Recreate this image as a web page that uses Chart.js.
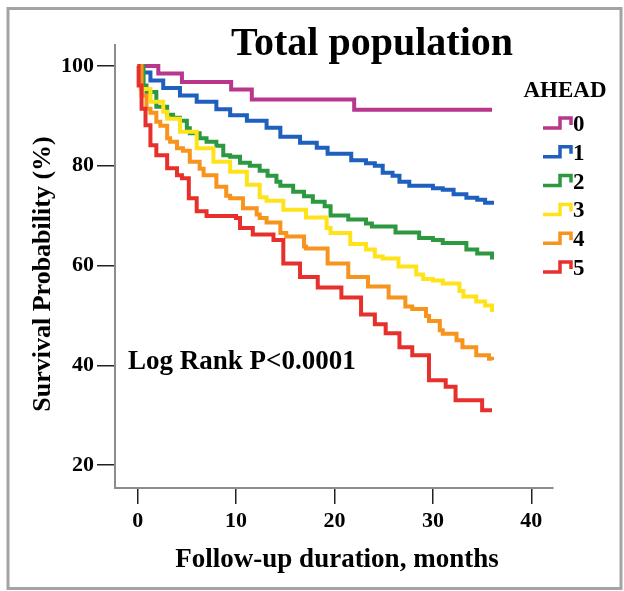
<!DOCTYPE html>
<html>
<head>
<meta charset="utf-8">
<script src="https://cdn.jsdelivr.net/npm/chart.js@4.4.0/dist/chart.umd.min.js"></script>
<style>
  html, body { margin: 0; padding: 0; background: #fff; }
</style>
</head>
<body>
<canvas id="km" width="624" height="591"></canvas>
<script>
// Kaplan-Meier curves by AHEAD score (months, survival %)
var groups = ['0', '1', '2', '3', '4', '5'];
var colors = ['#B8378D', '#1F5FBD', '#2C983F', '#FFE31A', '#F7941E', '#E7302B'];

var months0 = [0, 2.1, 4.5, 9.5, 11.6, 22.0, 36.0];
var surv0   = [100, 98.5, 96.8, 95.3, 93.3, 91.2, 91.2];

var months1 = [0, 0.3, 1.3, 2.6, 4.3, 6.0, 8.0, 9.4, 11.1, 13.1, 14.5, 16.5, 18.2, 19.3, 21.7, 23.2, 24.1, 24.9, 25.9, 26.6, 27.6, 30.0, 31.0, 32.1, 33.4, 34.5, 35.3, 36.0];
var surv1   = [100, 98.7, 97.1, 95.6, 94.1, 92.8, 91.3, 90.1, 89.0, 87.6, 85.8, 84.6, 83.6, 82.4, 81.1, 80.5, 80.0, 78.6, 78.0, 76.8, 76.0, 75.5, 75.2, 74.3, 73.6, 73.2, 72.6, 72.2];

var months2 = [0, 0.6, 0.9, 1.9, 3.0, 3.6, 4.3, 5.0, 5.3, 6.3, 7.0, 8.0, 8.7, 9.4, 10.4, 11.4, 12.4, 13.2, 14.1, 14.5, 15.8, 16.9, 17.8, 19.0, 19.6, 21.4, 23.2, 23.8, 26.2, 28.6, 30.0, 31.0, 33.4, 34.5, 36.0];
var surv2   = [100, 96.1, 94.8, 91.8, 90.2, 89.6, 89.0, 87.5, 86.5, 85.5, 84.8, 84.0, 82.1, 81.8, 80.6, 80.0, 79.0, 78.0, 76.8, 76.0, 74.8, 73.9, 72.8, 71.9, 70.0, 69.2, 68.4, 67.8, 66.6, 65.5, 65.1, 64.5, 63.2, 62.4, 61.2];

var months3 = [0, 0.3, 1.3, 2.6, 3.0, 4.3, 6.0, 7.7, 9.4, 11.1, 12.4, 13.1, 14.8, 17.1, 19.2, 19.6, 21.6, 23.2, 24.1, 24.9, 26.5, 28.3, 29.0, 30.0, 31.0, 32.7, 33.1, 34.4, 35.3, 36.0];
var surv3   = [100, 95.4, 92.8, 90.8, 89.4, 86.8, 83.5, 80.8, 78.8, 76.2, 73.7, 73.0, 71.2, 69.6, 67.5, 66.5, 64.3, 63.2, 61.8, 61.4, 59.8, 58.2, 57.3, 57.0, 56.4, 54.9, 53.8, 52.8, 52.0, 50.7];

var months4 = [0, 0.4, 0.9, 1.3, 1.9, 2.3, 3.0, 3.3, 4.0, 4.6, 5.3, 6.3, 6.7, 8.0, 9.0, 9.4, 10.7, 12.1, 12.4, 13.1, 14.5, 15.1, 16.9, 17.1, 19.3, 21.4, 23.4, 25.5, 27.2, 27.9, 29.3, 29.6, 30.7, 31.0, 32.4, 33.0, 34.4, 35.7, 36.0];
var surv4   = [100, 94.1, 91.4, 90.6, 88.8, 88.0, 85.5, 84.8, 83.5, 83.0, 80.8, 79.4, 78.1, 75.8, 74.0, 73.5, 71.5, 70.2, 69.5, 68.6, 66.5, 65.8, 63.8, 63.4, 60.4, 57.7, 55.8, 53.6, 51.8, 51.3, 49.9, 48.9, 47.0, 46.3, 45.0, 43.6, 42.0, 41.3, 41.0];

var months5 = [0, 0.1, 0.4, 0.8, 1.3, 1.9, 3.0, 4.0, 4.5, 5.2, 6.0, 7.0, 10.0, 10.4, 11.7, 13.8, 14.8, 16.5, 18.3, 20.7, 22.7, 24.1, 25.2, 26.6, 27.9, 29.6, 31.3, 32.3, 35.0, 36.0];
var surv5   = [100, 96.1, 91.4, 88.1, 84.1, 82.1, 79.5, 78.1, 77.5, 73.5, 70.9, 69.9, 69.5, 67.5, 66.2, 65.1, 60.4, 57.7, 55.6, 53.6, 50.2, 48.2, 46.4, 43.6, 42.0, 37.0, 35.7, 33.0, 31.0, 31.0];

var xTicks = [0, 10, 20, 30, 40];
var yTicks = [20, 40, 60, 80, 100];

var titleText = 'Total population';
var xTitle = 'Follow-up duration, months';
var yTitle = 'Survival Probability (%)';
var noteText = 'Log Rank P<0.0001';
var legendTitle = 'AHEAD';

var allMonths = [months0, months1, months2, months3, months4, months5];
var allSurv = [surv0, surv1, surv2, surv3, surv4, surv5];

var FONT = '"Liberation Serif", "Times New Roman", serif';
Chart.defaults.font.family = FONT;

function boldText(ctx, s, x, y, size, align, sx) {
  ctx.save();
  ctx.font = 'bold ' + size + 'px ' + FONT;
  ctx.textAlign = align;
  ctx.textBaseline = 'alphabetic';
  ctx.fillStyle = '#000';
  ctx.translate(x, y);
  ctx.scale(sx || 1, 1);
  ctx.fillText(s, 0, 0);
  ctx.restore();
}

// frame, title, legend and the text around the plot
var decor = {
  id: 'decor',
  beforeDraw: function(chart) {
    var ctx = chart.ctx;
    ctx.save();
    ctx.fillStyle = '#fff';
    ctx.fillRect(0, 0, chart.width, chart.height);
    ctx.restore();
  },
  afterDraw: function(chart) {
    var ctx = chart.ctx;
    ctx.save();
    ctx.strokeStyle = '#a3a3a3';
    ctx.lineWidth = 3;
    ctx.strokeRect(8, 8.5, 613, 580);
    ctx.restore();

    boldText(ctx, titleText, 372, 55, 40, 'center');
    boldText(ctx, noteText, 128, 369, 27, 'left');
    boldText(ctx, xTitle, 337, 567, 27, 'center');

    ctx.save();
    ctx.translate(50, 274);
    ctx.rotate(-Math.PI / 2);
    boldText(ctx, yTitle, 0, 0, 26, 'center');
    ctx.restore();

    boldText(ctx, legendTitle, 565, 97, 23, 'center');
    for (var i = 0; i < groups.length; i++) {
      var cy = 123 + i * 28.8;
      ctx.save();
      ctx.strokeStyle = colors[i];
      ctx.lineWidth = 3.5;
      ctx.lineJoin = 'miter';
      ctx.beginPath();
      ctx.moveTo(543, cy + 5);
      ctx.lineTo(560, cy + 5);
      ctx.lineTo(560, cy - 5);
      ctx.lineTo(571, cy - 5);
      ctx.lineTo(571, cy + 2);
      ctx.stroke();
      ctx.restore();
      boldText(ctx, groups[i], 573, cy + 8, 23, 'left');
    }
  }
};

var datasets = groups.map(function(g, i) {
  return {
    label: g,
    data: allMonths[i].map(function(m, j) { return { x: m, y: allSurv[i][j] }; }),
    borderColor: colors[i],
    borderWidth: 4,
    stepped: 'before',
    pointRadius: 0,
    fill: false,
    order: groups.length - i
  };
});

new Chart(document.getElementById('km'), {
  type: 'line',
  data: { datasets: datasets },
  options: {
    responsive: false,
    animation: false,
    devicePixelRatio: 1,
    layout: { padding: { top: 45, right: 71, bottom: 0, left: 0 } },
    plugins: {
      legend: { display: false },
      title: { display: false },
      tooltip: { enabled: false }
    },
    scales: {
      x: {
        type: 'linear',
        min: -2.3,
        max: 42.2,
        afterBuildTicks: function(s) { s.ticks = xTicks.map(function(v) { return { value: v }; }); },
        afterFit: function(s) { s.height = 103; },
        ticks: { color: '#000', font: { size: 22, weight: 'bold' }, padding: 4, maxRotation: 0 },
        grid: { drawOnChartArea: false, tickLength: 16, color: '#222', lineWidth: 1.5 },
        border: { color: '#8c8c8c', width: 2 }
      },
      y: {
        type: 'linear',
        min: 15.4,
        max: 104.2,
        afterBuildTicks: function(s) { s.ticks = yTicks.map(function(v) { return { value: v }; }); },
        afterFit: function(s) { s.width = 115; },
        ticks: { color: '#000', font: { size: 22, weight: 'bold' }, padding: 3 },
        grid: { drawOnChartArea: false, tickLength: 18, color: '#222', lineWidth: 1.5 },
        border: { color: '#8c8c8c', width: 2 }
      }
    }
  },
  plugins: [decor]
});
</script>
</body>
</html>
